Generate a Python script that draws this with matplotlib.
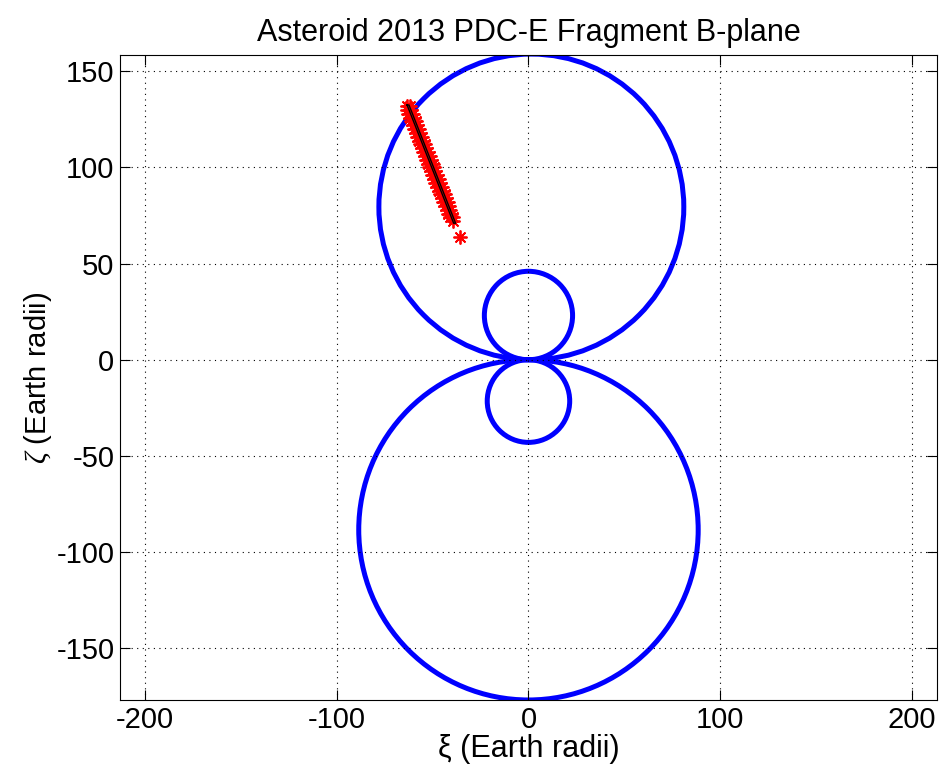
import numpy as np
import matplotlib.pyplot as plt
from matplotlib.patches import Circle

plt.rcParams['font.family'] = ['Liberation Sans', 'DejaVu Sans']
plt.rcParams['mathtext.fontset'] = 'custom'
plt.rcParams['mathtext.it'] = 'Liberation Serif:italic'
plt.rcParams['axes.unicode_minus'] = False

# keyhole circles: centre xi, centre zeta, radius (Earth radii)
circle_xi = [1.5, 0.0, 0.0, 0.0]
circle_zeta = [79.5, 23.0, -21.5, -88.5]
circle_r = [79.5, 23.0, 21.5, 88.5]

# fragment impact points on the B-plane
frag_xi = [-63.5, -62.0, -63.5, -61.0, -62.8, -60.3, -61.9, -59.6, -61.0, -58.8,
           -60.3, -58.0, -59.6, -57.2, -58.8, -56.4, -58.0, -55.6, -57.2, -54.8,
           -56.4, -54.0, -55.6, -53.2, -54.8, -52.4, -54.0, -51.6, -53.2, -50.8,
           -52.4, -50.0, -51.7, -49.3, -50.9, -48.5, -50.1, -47.7, -49.3, -46.9,
           -48.5, -46.1, -47.7, -45.3, -46.9, -44.5, -46.1, -43.7, -45.3, -42.9,
           -44.5, -42.1, -43.6, -41.6, -42.6, -41.0, -41.8, -40.2, -40.8, -39.6,
           -39.4, -35.5]
frag_zeta = [132, 132, 130, 130, 128, 128, 126, 126, 124, 124,
             122, 122, 120, 120, 118, 118, 116, 116, 114, 114,
             112, 112, 110, 110, 108, 108, 106, 106, 104, 104,
             102, 102, 100, 100, 98, 98, 96, 96, 94, 94,
             92, 92, 90, 90, 88, 88, 86, 86, 84, 84,
             82, 82, 80, 80, 78, 78, 76, 76, 74, 74,
             72, 64]

# nominal line of variations (drawn as a thin closed outline)
lov_xi = [-63.3, -39.0, -38.0, -62.3, -63.3]
lov_zeta = [132.5, 71.0, 71.0, 132.5, 132.5]

fig = plt.figure(figsize=(9.41, 7.75), dpi=100)
ax = fig.add_axes([0.1275, 0.0968, 0.8682, 0.8322])

for cx, cz, r in zip(circle_xi, circle_zeta, circle_r):
    ax.add_patch(Circle((cx, cz), r, fill=False, edgecolor='#0000ff', linewidth=3.6))

ax.plot(frag_xi, frag_zeta, linestyle='none', marker=(8, 2, 0), markersize=10,
        color='red', markeredgewidth=1.3)
ax.plot(lov_xi, lov_zeta, color='black', linewidth=1.0)

ax.set_xlim(-213, 213)
ax.set_ylim(-177, 158.5)
ax.set_xticks([-200, -100, 0, 100, 200])
ax.set_yticks([-150, -100, -50, 0, 50, 100, 150])
ax.grid(True, linestyle=(0, (1, 4)), color='black', linewidth=0.8)
ax.tick_params(direction='in', top=True, right=True, labelsize=21, length=7, pad=4)
for s in ax.spines.values():
    s.set_linewidth(0.8)

ax.set_xlabel('ξ (Earth radii)', fontsize=22, labelpad=0)
ax.set_ylabel(r'$\zeta$ (Earth radii)', fontsize=21, labelpad=2)
ax.set_title('Asteroid 2013 PDC-E Fragment B-plane', fontsize=22, pad=10)

fig.savefig('out.png', dpi=100)
